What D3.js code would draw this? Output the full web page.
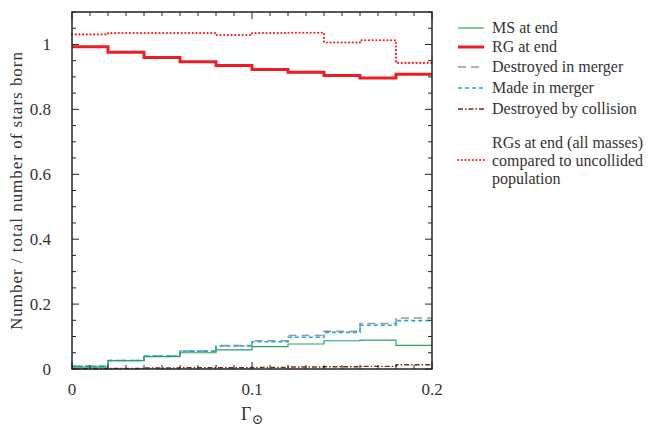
<!DOCTYPE html>
<html>
<head>
<meta charset="utf-8">
<script src="https://cdn.jsdelivr.net/npm/d3@7"></script>
<style>
body { margin: 0; background: #fff; }
text { font-family: "Liberation Serif", "DejaVu Serif", serif; fill: #333; }
</style>
</head>
<body>
<svg width="671" height="426"></svg>
<script>
// bin left edges (Gamma_sun), width 0.02
var binEdges = [0, 0.02, 0.04, 0.06, 0.08, 0.10, 0.12, 0.14, 0.16, 0.18, 0.20]

var msEnd       = [0.006, 0.026, 0.038, 0.050, 0.059, 0.069, 0.077, 0.087, 0.089, 0.073]
var rgEnd       = [0.993, 0.976, 0.960, 0.947, 0.935, 0.923, 0.914, 0.904, 0.897, 0.908]
var destMerger  = [0.009, 0.026, 0.040, 0.055, 0.072, 0.087, 0.103, 0.116, 0.140, 0.157]
var madeMerger  = [0.008, 0.026, 0.040, 0.055, 0.071, 0.084, 0.098, 0.113, 0.135, 0.149]
var destColl    = [0.001, 0.002, 0.003, 0.004, 0.004, 0.005, 0.006, 0.007, 0.008, 0.013]
var rgAllMasses = [1.031, 1.035, 1.035, 1.035, 1.029, 1.035, 1.036, 1.006, 1.013, 0.943]

var xTickLabels = ["0", "0.1", "0.2"]
var yTickLabels = ["0", "0.2", "0.4", "0.6", "0.8", "1"]

var series = [
    {name: "MS at end", values: msEnd, color: "#2ca25f", width: 1.2, dash: null, ly: 28},
    {name: "RG at end", values: rgEnd, color: "#ee1c25", width: 3, dash: null, ly: 47},
    {name: "Destroyed in merger", values: destMerger, color: "#999999", width: 1.6, dash: "8,5", ly: 67},
    {name: "Made in merger", values: madeMerger, color: "#1ea7e1", width: 1.6, dash: "4,3", ly: 88},
    {name: "Destroyed by collision", values: destColl, color: "#7a2a10", width: 1.4, dash: "5,2,1.5,2", ly: 109},
    {name: "RGs at end (all masses)|compared to uncollided|population", values: rgAllMasses, color: "#ff1a1a", width: 2.2, dash: "0,3.7", cap: "round", ly: 160}
]

var svg = d3.select("svg")
var mLeft = 72, mRight = 432, mTop = 12, mBottom = 369

var x = d3.scaleLinear().domain([0, 0.2]).range([mLeft, mRight])
var y = d3.scaleLinear().domain([0, 1.1]).range([mBottom, mTop])

var line = d3.line()
    .x((d) => x(d.x))
    .y((d) => y(d.y))
    .curve(d3.curveStepAfter)

var stepData = function(vals) {
    let pts = vals.map((v, i) => ({x: binEdges[i], y: v}))
    pts.push({x: binEdges[binEdges.length - 1], y: vals[vals.length - 1]})
    return pts
}

var plot = svg.append("g")

// draw lower series first, red lines on top
var order = [2, 3, 0, 4, 1, 5]
order.forEach((k) => {
    let s = series[k]
    plot.append("path")
        .datum(stepData(s.values))
        .attr("d", line)
        .attr("fill", "none")
        .attr("stroke", s.color)
        .attr("stroke-width", s.width)
        .attr("stroke-linecap", s.cap || "butt")
        .attr("stroke-dasharray", s.dash)
})

// frame
svg.append("rect")
    .attr("x", mLeft).attr("y", mTop)
    .attr("width", mRight - mLeft).attr("height", mBottom - mTop)
    .attr("fill", "none").attr("stroke", "#222").attr("stroke-width", 1.5)

// inward ticks on all four sides
var xMinor = d3.range(0, 0.2001, 0.01)
var yMinor = d3.range(0, 1.1001, 0.05)
var ticks = svg.append("g").attr("stroke", "#222").attr("stroke-width", 1)
xMinor.forEach((t) => {
    let len = Math.abs(t * 10 - Math.round(t * 10)) < 1e-6 ? 7 : 4
    ticks.append("line").attr("x1", x(t)).attr("x2", x(t)).attr("y1", mBottom).attr("y2", mBottom - len)
    ticks.append("line").attr("x1", x(t)).attr("x2", x(t)).attr("y1", mTop).attr("y2", mTop + len)
})
yMinor.forEach((t) => {
    let len = Math.abs(t * 5 - Math.round(t * 5)) < 1e-6 ? 7 : 4
    ticks.append("line").attr("x1", mLeft).attr("x2", mLeft + len).attr("y1", y(t)).attr("y2", y(t))
    ticks.append("line").attr("x1", mRight).attr("x2", mRight - len).attr("y1", y(t)).attr("y2", y(t))
})

// tick labels
svg.append("g").selectAll("text")
    .data(xTickLabels)
    .join("text")
    .attr("x", (d) => x(+d))
    .attr("y", 395)
    .attr("text-anchor", "middle")
    .attr("font-size", 17)
    .text((d) => d)

svg.append("g").selectAll("text")
    .data(yTickLabels)
    .join("text")
    .attr("x", 51)
    .attr("y", (d) => y(+d) + 6)
    .attr("text-anchor", "end")
    .attr("font-size", 17)
    .text((d) => d)

// axis labels
svg.append("text")
    .attr("transform", "translate(22,191) rotate(-90)")
    .attr("text-anchor", "middle")
    .attr("font-size", 17)
    .attr("textLength", 278)
    .attr("lengthAdjust", "spacing")
    .text("Number / total number of stars born")

var xl = svg.append("text")
    .attr("x", 241).attr("y", 420)
    .attr("font-size", 18)
xl.append("tspan").text("Γ")
xl.append("tspan").attr("dy", 4).attr("font-size", 14).text("⊙")

// legend
var leg = svg.append("g")
series.forEach((s) => {
    leg.append("line")
        .attr("x1", 458).attr("x2", 484)
        .attr("y1", s.ly).attr("y2", s.ly)
        .attr("stroke", s.color)
        .attr("stroke-width", s.width)
        .attr("stroke-linecap", s.cap || "butt")
        .attr("stroke-dasharray", s.dash)
    let parts = s.name.split("|")
    parts.forEach((p, i) => {
        leg.append("text")
            .attr("x", 492)
            .attr("y", (parts.length > 1 ? s.ly - 17 + i * 18 : s.ly) + 5)
            .attr("font-size", 16)
            .text(p)
    })
})
</script>
</body>
</html>
